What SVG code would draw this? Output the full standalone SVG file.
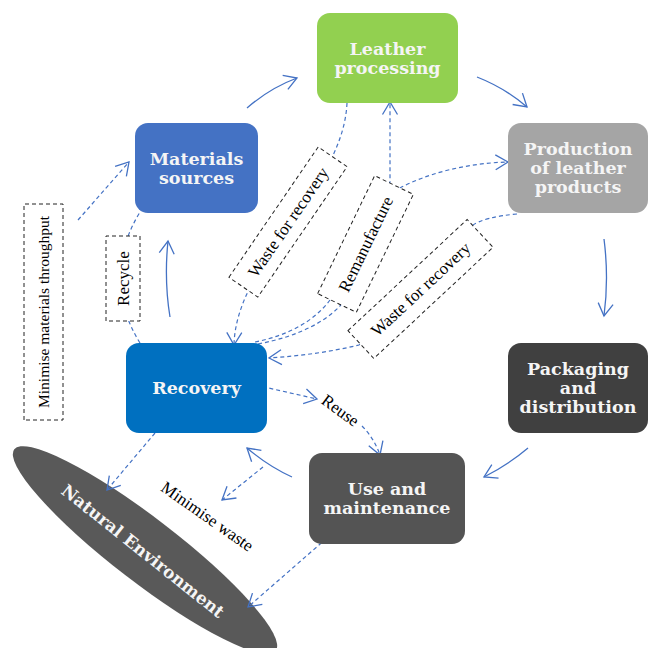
<svg xmlns="http://www.w3.org/2000/svg" width="651" height="648" viewBox="0 0 651 648">
<defs>
<style>
.node text{font-family:"DejaVu Serif","Liberation Serif",serif;font-weight:bold;font-size:17.5px;fill:#F5F5F5;text-anchor:middle}
.lbl rect{fill:#fff;stroke:#222;stroke-width:1;stroke-dasharray:4 3}
.lbl text,.ftxt{font-family:"Liberation Serif","Times New Roman",serif;font-size:17px;fill:#000;text-anchor:middle}
.solid{fill:none;stroke:#4472C4;stroke-width:1.3;marker-end:url(#ah)}
.dash{fill:none;stroke:#4472C4;stroke-width:1.2;stroke-dasharray:4 3}
.dash.a{marker-end:url(#ah)}
</style>
<marker id="ah" markerUnits="userSpaceOnUse" markerWidth="18" markerHeight="18" viewBox="-15 -9 18 18" refX="0" refY="0" orient="auto">
<path d="M-12.5,-7.5 L0,0 L-12.5,7.5" fill="none" stroke="#4472C4" stroke-width="1.3"/>
</marker>
</defs>
<rect width="651" height="648" fill="#fff"/>

<g id="natural-environment" class="node">
<ellipse cx="145" cy="550" rx="165" ry="32" transform="rotate(37.6 145 550)" fill="#595959"/>
<text transform="translate(143 551) rotate(38.5)" y="6" style="font-size:17px">Natural Environment</text>
</g>

<g id="connectors">
<path class="solid" d="M247,108 Q270,88 297,78"/>
<path class="solid" d="M477,77 Q505,88 527,107"/>
<path class="solid" d="M604,239 Q609,278 604,316"/>
<path class="solid" d="M528,448 Q508,465 484,477"/>
<path class="solid" d="M292,477 Q268,466 247,448"/>
<path class="solid" d="M170,317 Q164,280 168,241"/>
<path class="dash a" d="M78,220 L129,162"/>
<path class="dash" d="M140,343 Q100,278 140,212"/>
<path class="dash a" d="M347,103 C343,190 236,260 234,345"/>
<path class="dash a" d="M255,342 C290,335 315,320 330,300 L390,182 L390,102"/>
<path class="dash a" d="M258,344 C300,336 330,320 345,300 L400,188 C430,172 470,163 508,162"/>
<path class="dash a" d="M517,214 C495,216 480,220 473,225 L359,345 C330,352 300,356 269,358"/>
<path class="dash a" d="M242,382 L317,399"/>
<path class="dash a" d="M362,426 Q374,438 380,455"/>
<path class="dash a" d="M155,433 L107,490"/>
<path class="dash a" d="M263,467 L222,500"/>
<path class="dash a" d="M327,538 L248,607"/>
</g>

<g id="leather-processing" class="node">
<rect x="317" y="13" width="141" height="90" rx="13" fill="#92D050"/>
<text x="387.5" y="55">Leather</text>
<text x="387.5" y="74">processing</text>
</g>
<g id="materials-sources" class="node">
<rect x="135" y="123" width="123" height="90" rx="13" fill="#4472C4"/>
<text x="196.5" y="165">Materials</text>
<text x="196.5" y="184">sources</text>
</g>
<g id="production" class="node">
<rect x="508" y="123" width="140" height="90" rx="13" fill="#A5A5A5"/>
<text x="578" y="155">Production</text>
<text x="578" y="174">of leather</text>
<text x="578" y="193">products</text>
</g>
<g id="packaging" class="node">
<rect x="508" y="343" width="140" height="90" rx="13" fill="#404040"/>
<text x="578" y="375">Packaging</text>
<text x="578" y="394">and</text>
<text x="578" y="413">distribution</text>
</g>
<g id="use-maintenance" class="node">
<rect x="309" y="453" width="156" height="91" rx="13" fill="#545454"/>
<text x="387" y="495">Use and</text>
<text x="387" y="514">maintenance</text>
</g>
<g id="recovery" class="node">
<rect x="126" y="343" width="141" height="90" rx="13" fill="#0070C0"/>
<text x="196.5" y="394">Recovery</text>
</g>

<g id="label-minimise-throughput" class="lbl" transform="translate(43.5 312) rotate(-90)">
<rect x="-108" y="-19.5" width="216" height="39"/>
<text y="5.5" style="font-size:15.5px">Minimise materials throughput</text>
</g>
<g id="label-recycle" class="lbl" transform="translate(123 278.5) rotate(-90)">
<rect x="-42.5" y="-17" width="85" height="34"/>
<text y="6">Recycle</text>
</g>
<g id="label-waste1" class="lbl" transform="translate(288 222) rotate(-55.6)">
<rect x="-79" y="-17.5" width="158" height="35"/>
<text y="6">Waste for recovery</text>
</g>
<g id="label-remanufacture" class="lbl" transform="translate(365.5 244) rotate(-64.2)">
<rect x="-65.5" y="-21.5" width="131" height="43"/>
<text y="6">Remanufacture</text>
</g>
<g id="label-waste2" class="lbl" transform="translate(420.5 289) rotate(-43)">
<rect x="-81.5" y="-19" width="163" height="38"/>
<text y="6">Waste for recovery</text>
</g>
<text class="ftxt" transform="translate(340 411) rotate(36)" y="5">Reuse</text>
<text class="ftxt" transform="translate(207 517) rotate(35)" y="5">Minimise waste</text>
</svg>
